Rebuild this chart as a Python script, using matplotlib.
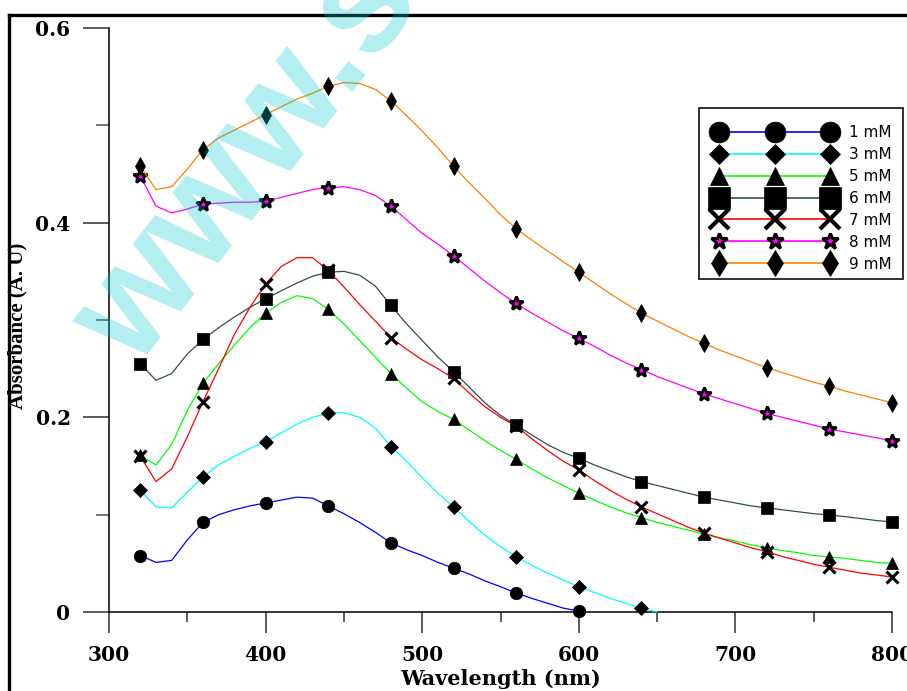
import matplotlib
matplotlib.use("Agg")
import matplotlib.pyplot as plt
from matplotlib.lines import Line2D
from matplotlib.patches import Rectangle
from matplotlib.ticker import MultipleLocator, FuncFormatter

# Wavelength grid of the recorded spectra (nm)
wavelength = list(range(320, 801, 10))

# Absorbance spectra for each concentration
abs_1mM = [0.058, 0.051, 0.053, 0.074, 0.092, 0.100, 0.105, 0.109, 0.112, 0.115,
           0.118, 0.117, 0.109, 0.101, 0.092, 0.082, 0.071, 0.064, 0.058, 0.051,
           0.045, 0.039, 0.032, 0.026, 0.0195, 0.014, 0.009, 0.004, 0.001]
abs_3mM = [0.125, 0.108, 0.107, 0.123, 0.139, 0.151, 0.160, 0.168, 0.175, 0.184,
           0.193, 0.200, 0.204, 0.205, 0.200, 0.189, 0.170, 0.155, 0.138, 0.122,
           0.108, 0.093, 0.079, 0.067, 0.057, 0.048, 0.040, 0.033, 0.026, 0.020,
           0.014, 0.009, 0.004, 0.0]
abs_5mM = [0.161, 0.151, 0.172, 0.207, 0.235, 0.255, 0.274, 0.292, 0.307, 0.318,
           0.325, 0.322, 0.311, 0.296, 0.279, 0.262, 0.245, 0.230, 0.216, 0.206,
           0.198, 0.187, 0.176, 0.166, 0.157, 0.147, 0.138, 0.130, 0.122, 0.115,
           0.108, 0.102, 0.097, 0.092, 0.088, 0.084, 0.080, 0.076, 0.073, 0.069,
           0.066, 0.063, 0.061, 0.058, 0.0566, 0.055, 0.053, 0.051, 0.050]
abs_6mM = [0.255, 0.238, 0.245, 0.265, 0.280, 0.292, 0.303, 0.313, 0.322, 0.330,
           0.338, 0.345, 0.349, 0.350, 0.346, 0.335, 0.315, 0.296, 0.279, 0.262,
           0.247, 0.231, 0.215, 0.202, 0.192, 0.182, 0.172, 0.164, 0.158, 0.151,
           0.145, 0.139, 0.134, 0.130, 0.126, 0.122, 0.118, 0.115, 0.112, 0.109,
           0.107, 0.105, 0.103, 0.101, 0.0997, 0.098, 0.096, 0.094, 0.0925]
abs_7mM = [0.160, 0.134, 0.147, 0.180, 0.216, 0.250, 0.285, 0.313, 0.337, 0.355,
           0.364, 0.364, 0.351, 0.334, 0.316, 0.299, 0.282, 0.270, 0.259, 0.250,
           0.240, 0.225, 0.211, 0.200, 0.191, 0.178, 0.166, 0.155, 0.146, 0.135,
           0.125, 0.116, 0.108, 0.101, 0.094, 0.087, 0.081, 0.076, 0.071, 0.066,
           0.062, 0.057, 0.053, 0.049, 0.046, 0.043, 0.040, 0.038, 0.036]
abs_8mM = [0.448, 0.417, 0.410, 0.414, 0.419, 0.420, 0.421, 0.421, 0.422, 0.426,
           0.430, 0.434, 0.436, 0.437, 0.434, 0.428, 0.417, 0.403, 0.389, 0.378,
           0.366, 0.353, 0.340, 0.328, 0.317, 0.307, 0.298, 0.289, 0.281, 0.273,
           0.264, 0.256, 0.249, 0.242, 0.236, 0.230, 0.224, 0.219, 0.214, 0.209,
           0.204, 0.200, 0.196, 0.192, 0.188, 0.185, 0.182, 0.179, 0.176]
abs_9mM = [0.458, 0.434, 0.437, 0.455, 0.475, 0.487, 0.495, 0.503, 0.511, 0.519,
           0.527, 0.533, 0.540, 0.544, 0.543, 0.537, 0.525, 0.510, 0.494, 0.477,
           0.458, 0.441, 0.425, 0.408, 0.394, 0.382, 0.371, 0.360, 0.349, 0.338,
           0.327, 0.317, 0.307, 0.299, 0.291, 0.283, 0.276, 0.269, 0.263, 0.257,
           0.251, 0.246, 0.241, 0.236, 0.232, 0.227, 0.223, 0.219, 0.215]

labels = ["1 mM", "3 mM", "5 mM", "6 mM", "7 mM", "8 mM", "9 mM"]
series = [abs_1mM, abs_3mM, abs_5mM, abs_6mM, abs_7mM, abs_8mM, abs_9mM]
colors = ["#0000ff", "#00ffff", "#00ff00", "#2f4f4f", "#ff0000", "#ff00ff", "#ff8000"]
markers = ["o", "D", "^", "s", "x", "*", "d"]
plot_ms = [9, 7, 9, 9, 9, 10, 9]
legend_ms = [15, 10.5, 13, 15.5, 14, 12, 13]

W, H = 907, 691
fig = plt.figure(figsize=(W / 100, H / 100), dpi=100)


def fx(px):
    return px / W


def fy(py):
    return 1 - py / H


def marker_style(m, big=False):
    if m == "*":
        return dict(mfc="#ff00ff", mec="black", mew=2.2 if big else 2.0)
    if m == "x":
        return dict(mfc="black", mec="black", mew=3 if big else 2.2)
    return dict(mfc="black", mec="black", mew=0.5)


ax = fig.add_axes([fx(109), fy(612), fx(892) - fx(109), fy(28) - fy(612)])

for vals, c, m, ms in zip(series, colors, markers, plot_ms):
    n = len(vals)
    ax.plot(wavelength[:n], vals, color=c, lw=0.9, marker=m, ms=ms,
            markevery=4, clip_on=False, zorder=3, **marker_style(m))

ax.set_xlim(300, 800)
ax.set_ylim(0, 0.6)
for side in ("top", "right"):
    ax.spines[side].set_visible(False)
for side in ("left", "bottom"):
    ax.spines[side].set_linewidth(1.1)

ax.xaxis.set_major_locator(MultipleLocator(100))
ax.xaxis.set_minor_locator(MultipleLocator(50))
ax.yaxis.set_major_locator(MultipleLocator(0.2))
ax.yaxis.set_minor_locator(MultipleLocator(0.1))
ax.yaxis.set_major_formatter(FuncFormatter(lambda v, p: "0" if abs(v) < 1e-9 else f"{v:.1f}"))

tick_font = {"family": "DejaVu Serif", "weight": "bold", "size": 14.5}
ax.tick_params(axis="y", which="major", direction="out", length=18.7, width=1.2,
               color="#404040", pad=9)
ax.tick_params(axis="y", which="minor", direction="out", length=9.4, width=1.2,
               color="#606060")
ax.tick_params(axis="x", which="major", direction="out", length=15, width=1.2,
               color="#404040", pad=9)
ax.tick_params(axis="x", which="minor", direction="out", length=7.5, width=1.2,
               color="#404040")
for lab in ax.get_xticklabels() + ax.get_yticklabels():
    lab.set_fontproperties(tick_font)

ax.set_xlabel("Wavelength (nm)", fontfamily="DejaVu Serif", fontweight="bold",
              fontsize=15)
ax.xaxis.label.set_va("center")
ax.xaxis.set_label_coords((500 - 109) / 783, (612 - 679) / 584)
ax.set_ylabel("Absorbance (A. U)", fontfamily="Liberation Serif", fontweight="bold",
              fontsize=15)
ax.yaxis.label.set_va("center")
ax.yaxis.set_label_coords((17 - 109) / 783, (612 - 326) / 584)

# Legend with enlarged symbols, boxed by a separate frame
handles = []
for c, m, ms in zip(colors, markers, legend_ms):
    handles.append(Line2D([], [], color=c, lw=1.2, marker=m, ms=ms,
                          **marker_style(m, big=True)))
leg = fig.legend(handles, labels, loc="upper left",
                 bbox_to_anchor=(fx(699), fy(110)), borderaxespad=0,
                 numpoints=3, handlelength=7.9, handletextpad=0.95,
                 borderpad=1.0, labelspacing=0.45, frameon=False,
                 prop={"family": "DejaVu Sans", "size": 11})
fig.add_artist(Rectangle((fx(699), fy(279)), fx(903) - fx(699), fy(108) - fy(279),
                         transform=fig.transFigure, fill=True, facecolor="white",
                         edgecolor="#222222", lw=1.3, zorder=1.5))
leg.set_zorder(2)

# Page frame
fig.add_artist(Line2D([fx(9), 1.0], [fy(15), fy(15)], color="black", lw=2.4))
fig.add_artist(Line2D([fx(9), fx(9)], [fy(15), 0.0], color="black", lw=2.4))

# Publisher watermark
fig.text(fx(136), fy(370), "www.s", fontsize=108, rotation=52,
         rotation_mode="anchor", ha="left", va="baseline",
         color="#00c6cd", alpha=0.3, family="Liberation Sans",
         fontweight="bold", zorder=10)

fig.savefig("out.png", dpi=100)
